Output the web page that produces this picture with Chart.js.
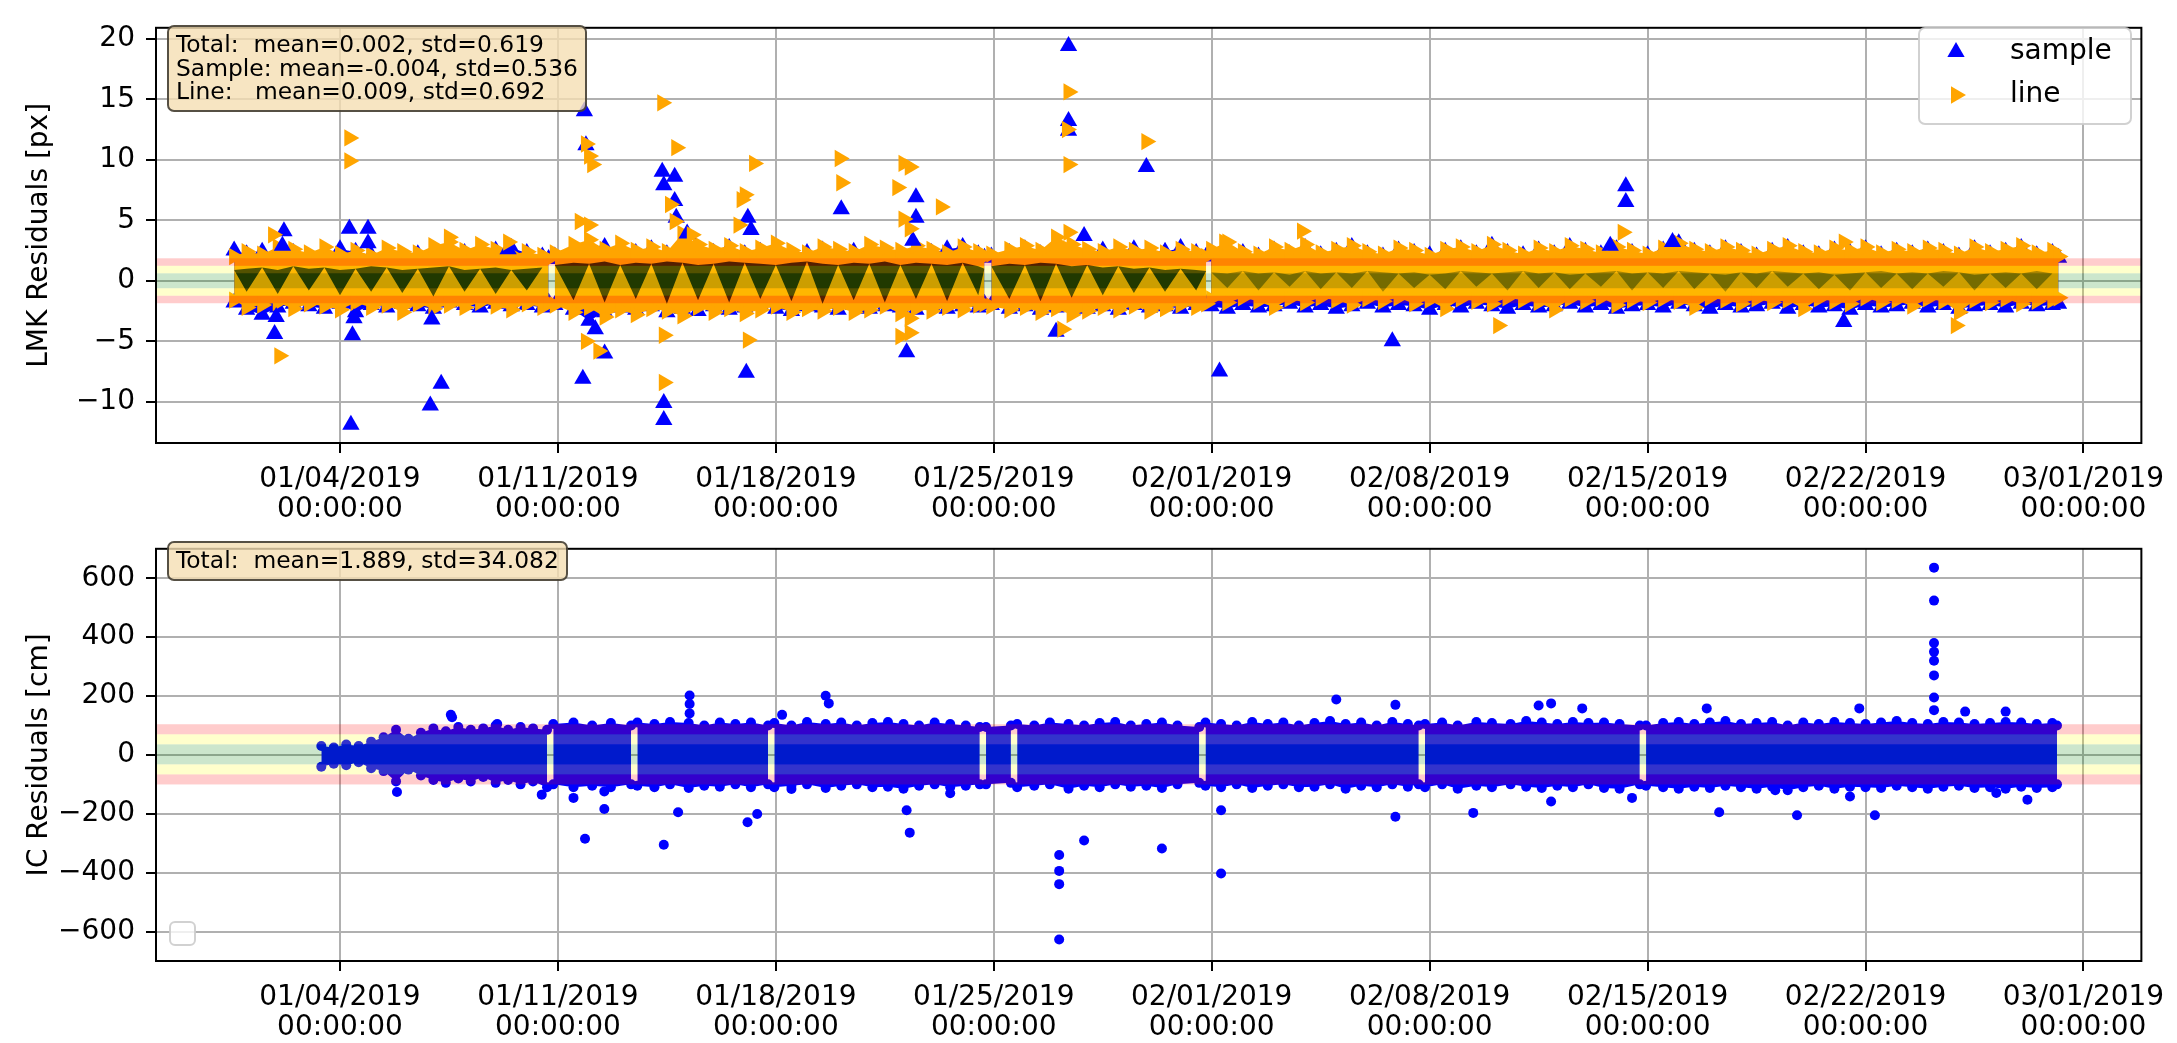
<!DOCTYPE html>
<html>
<head>
<meta charset="utf-8">
<title>LMK / IC residuals</title>
<script src="https://cdn.jsdelivr.net/npm/chart.js@4.4.1/dist/chart.umd.min.js"></script>
<style>
  html, body { margin: 0; padding: 0; background: #fff; }
  #wrap { position: relative; width: 2177px; height: 1043px; overflow: hidden; }
  canvas { position: absolute; left: 0; }
  #lmkCanvas { top: 0; }
  #icCanvas { top: 521px; }
  .statbox {
    position: absolute; left: 167px;
    font-family: 'DejaVu Sans', sans-serif; font-size: 23.4px; line-height: 23.5px;
    white-space: pre; color: #000;
    background: rgba(245, 222, 179, 0.8);
    border: 2px solid rgba(0, 0, 0, 0.65); border-radius: 7px;
    padding: 6px 7px;
  }
</style>
</head>
<body>
<div id="wrap">
  <canvas id="lmkCanvas" width="2177" height="530"></canvas>
  <canvas id="icCanvas" width="2177" height="522"></canvas>
  <div id="lmkBox" class="statbox" style="top:25px"></div>
  <div id="icBox" class="statbox" style="top:541px"></div>
</div>
<script>
// x values are days since 01/01/2019 00:00:00
const xMin = -2.91;
const xMax = 60.86;
const xTickDays = [3, 10, 17, 24, 31, 38, 45, 52, 59];
const xTickLabels = ['01/04/2019', '01/11/2019', '01/18/2019', '01/25/2019', '02/01/2019',
                     '02/08/2019', '02/15/2019', '02/22/2019', '03/01/2019'];
const lmkTicks = [-10, -5, 0, 5, 10, 15, 20];
const icTicks = [-600, -400, -200, 0, 200, 400, 600];

// [mean, std] shown in the text boxes
const lmkTotal = [0.002, 0.619];
const lmkSample = [-0.004, 0.536];
const lmkLine = [0.009, 0.692];
const icTotal = [1.889, 34.082];

// LMK dense band, read as upper / lower edge per half day (null = gap between sessions)
const lmkDays = [
  -0.4, 0, 0.5, 1, 1.5, 2, 2.5, 3, 3.5, 4, 4.5, 5, 5.5, 6, 6.5, 7, 7.5, 8, 8.5, 9, 9.5, 9.7,
  9.8,
  9.9, 10.5, 11, 11.5, 12, 12.5, 13, 13.5, 14, 14.5, 15, 15.5, 16, 16.5, 17, 17.5, 18, 18.5, 19, 19.5,
  20, 20.5, 21, 21.5, 22, 22.5, 23, 23.5, 23.7,
  23.8,
  23.92, 24.5, 25, 25.5, 26, 26.5, 27, 27.5, 28, 28.5, 29, 29.5, 30, 30.5, 30.82,
  30.9,
  30.98, 31.5, 32, 32.5, 33, 33.5, 34, 34.5, 35, 35.5, 36, 36.5, 37, 37.5, 38, 38.5, 39, 39.5, 40, 40.5,
  41, 41.5, 42, 42.5, 43, 43.5, 44, 44.5, 45, 45.5, 46, 46.5, 47, 47.5, 48, 48.5, 49, 49.5, 50, 50.5,
  51, 51.5, 52, 52.5, 53, 53.5, 54, 54.5, 55, 55.5, 56, 56.5, 57, 57.5, 58, 58.2
];
const lineHi = [
  2.0, 2.4, 2.2, 2.8, 2.6, 2.3, 2.8, 2.2, 2.5, 2.1, 2.7, 2.4, 2.3, 2.9, 3.2, 2.5, 3.0, 2.6, 2.2, 2.4, 2.1, 1.8,
  null,
  2.3, 3.0, 3.4, 2.6, 3.1, 2.5, 2.8, 2.4, 3.9, 3.0, 2.6, 2.9, 2.4, 2.7, 3.1, 2.5, 2.3, 2.8, 2.6, 2.4,
  3.0, 2.7, 2.5, 2.9, 2.6, 2.3, 2.8, 2.4, 2.0,
  null,
  2.2, 2.6, 2.9, 2.5, 3.6, 3.0, 2.6, 2.4, 2.8, 2.5, 2.7, 2.3, 2.6, 2.4, 2.0,
  null,
  2.6, 3.2, 2.4, 2.2, 2.8, 2.5, 3.0, 2.3, 2.6, 2.9, 2.4, 2.2, 2.7, 2.5, 2.1, 2.6, 2.8, 2.4, 3.0, 2.5,
  2.2, 2.7, 2.4, 2.9, 2.6, 2.3, 2.8, 2.5, 2.2, 2.7, 3.1, 2.6, 2.4, 2.8, 2.5, 2.2, 2.6, 2.9, 2.4, 2.3,
  2.7, 2.5, 2.8, 2.3, 2.6, 2.4, 2.7, 2.5, 2.2, 2.8, 2.4, 2.6, 2.9, 2.3, 2.5, 2.0
];
const lineLo = [
  -1.6, -2.2, -2.0, -1.8, -2.3, -1.9, -2.1, -2.4, -1.8, -2.2, -2.0, -2.6, -1.9, -2.3, -2.0, -2.2, -1.8, -2.1, -2.4, -1.9, -2.2, -1.8,
  null,
  -2.0, -2.6, -2.2, -3.0, -2.4, -2.8, -2.3, -2.5, -2.9, -2.2, -2.6, -2.3, -2.7, -2.4, -2.1, -2.6, -2.3, -2.5, -2.2, -2.6,
  -2.4, -2.1, -2.7, -2.3, -2.5, -2.2, -2.4, -2.0, -1.9,
  null,
  -2.1, -2.4, -2.2, -2.6, -2.3, -2.8, -2.5, -2.2, -2.4, -2.1, -2.5, -2.3, -2.0, -2.2, -1.9,
  null,
  -1.5, -1.8, -1.4, -1.7, -2.2, -1.5, -1.8, -1.4, -1.6, -2.0, -1.5, -1.7, -1.4, -1.9, -1.6, -2.3, -1.5, -1.7, -1.9, -1.4,
  -1.6, -1.8, -2.4, -1.5, -1.7, -1.4, -2.0, -1.6, -1.8, -1.5, -1.7, -2.2, -1.4, -1.6, -1.9, -1.5, -1.8, -1.6, -2.3, -1.5,
  -1.7, -1.9, -1.4, -1.8, -1.6, -2.1, -1.5, -1.7, -2.6, -1.6, -1.8, -1.5, -1.9, -1.7, -1.6, -1.4
];
const sampleHi = [
  2.5, 2.2, 2.4, 2.0, 2.3, 1.9, 2.2, 2.6, 2.4, 2.1, 2.3, 2.0, 2.2, 2.4, 2.0, 2.3, 2.1, 2.5, 2.7, 2.3, 2.0, 1.8,
  null,
  2.0, 2.6, 2.2, 2.8, 2.4, 2.3, 2.6, 2.2, 2.9, 2.5, 2.3, 2.7, 2.2, 2.4, 2.6, 2.1, 2.3, 2.5, 2.2, 2.4,
  2.6, 2.3, 2.1, 2.5, 2.3, 2.6, 2.8, 2.2, 1.9,
  null,
  2.0, 2.3, 2.6, 2.2, 2.8, 2.4, 2.2, 2.5, 2.3, 2.6, 2.2, 2.4, 2.7, 2.3, 2.0,
  null,
  2.2, 2.6, 2.3, 2.0, 2.5, 2.2, 2.7, 2.1, 2.4, 2.8, 2.2, 2.0, 2.5, 2.3, 2.1, 2.4, 2.6, 2.2, 2.9, 2.3,
  2.1, 2.5, 2.2, 2.8, 2.4, 2.2, 2.6, 2.3, 2.1, 2.5, 3.1, 2.4, 2.2, 2.6, 2.3, 2.0, 2.4, 2.7, 2.2, 2.1,
  2.5, 2.3, 2.6, 2.1, 2.4, 2.2, 2.5, 2.3, 2.0, 2.6, 2.2, 2.4, 2.7, 2.1, 2.3, 1.9
];
const sampleLo = [
  -1.8, -2.4, -2.8, -2.2, -1.9, -2.1, -2.3, -1.9, -2.6, -2.0, -2.2, -1.9, -2.1, -2.3, -1.8, -2.0, -2.2, -1.9, -2.1, -2.0, -2.2, -1.8,
  null,
  -2.0, -2.4, -3.3, -2.6, -2.2, -2.4, -2.1, -2.6, -2.3, -2.5, -2.1, -2.4, -2.2, -2.0, -2.3, -2.5, -2.1, -2.2, -2.4, -2.0,
  -2.3, -2.1, -2.2, -2.4, -2.0, -2.3, -2.1, -2.2, -1.9,
  null,
  -2.0, -2.3, -2.1, -2.4, -2.2, -2.0, -2.3, -2.1, -2.4, -2.0, -2.2, -2.1, -2.3, -2.0, -1.9,
  null,
  -2.1, -2.3, -2.0, -2.2, -2.1, -1.9, -2.2, -2.0, -2.3, -2.1, -1.9, -2.2, -2.0, -2.1, -2.4, -2.0, -2.2, -1.9, -2.1, -2.3,
  -2.0, -2.2, -2.1, -1.9, -2.2, -2.0, -2.3, -2.1, -2.0, -2.2, -1.9, -2.1, -2.3, -2.0, -2.2, -2.1, -1.9, -2.3, -2.0, -2.2,
  -2.1, -2.4, -2.0, -2.2, -2.1, -1.9, -2.2, -2.0, -2.3, -2.1, -2.0, -2.2, -1.9, -2.1, -2.0, -1.9
];
// dark V-shaped cores of the crowded sessions (first three sessions, same days as above)
const coreHi = [
  0.9, 1.0, 1.1, 0.9, 1.2, 1.0, 1.1, 0.9, 1.0, 1.2, 1.1, 0.9, 1.0, 1.1, 1.2, 0.9, 1.0, 1.1, 0.9, 1.0, 1.1, 0.9,
  null,
  1.3, 1.5, 1.4, 1.6, 1.3, 1.5, 1.4, 1.6, 1.5, 1.3, 1.4, 1.6, 1.5, 1.4, 1.3, 1.5, 1.6, 1.4, 1.3, 1.5,
  1.4, 1.6, 1.3, 1.5, 1.4, 1.3, 1.5, 1.2, 1.0,
  null,
  1.2, 1.4, 1.3, 1.5, 1.4, 1.2, 1.3, 1.1, 1.2, 1.0, 1.1, 0.9, 1.0, 0.9, 0.8
];
const coreLo = [
  0.9, -0.9, 1.1, -1.1, 1.2, -0.8, 1.1, -1.2, 1.0, -0.9, 1.1, -1.0, 1.0, -1.3, 1.2, -0.9, 1.0, -1.1, 0.9, -0.8, 1.1, 0.9,
  null,
  1.3, -1.6, 1.4, -1.8, 1.3, -1.5, 1.4, -1.9, 1.5, -1.6, 1.4, -1.8, 1.5, -1.5, 1.3, -1.7, 1.6, -1.9, 1.3, -1.6,
  1.4, -1.8, 1.3, -1.5, 1.4, -1.7, 1.5, -1.2, 1.0,
  null,
  1.2, -1.5, 1.3, -1.7, 1.4, -1.4, 1.3, -1.2, 1.2, -1.0, 1.1, -0.9, 1.0, -0.8, 0.8
];
// thinner, paler cores of the last session (days from 30.98 on)
const core2Hi = [
  0.7, 0.6, 0.8, 0.6, 0.7, 0.5, 0.8, 0.6, 0.7, 0.6, 0.8, 0.7, 0.6, 0.7, 0.5, 0.6, 0.8, 0.7, 0.6, 0.7,
  0.8, 0.6, 0.7, 0.5, 0.6, 0.7, 0.8, 0.6, 0.7, 0.6, 0.8, 0.7, 0.6, 0.5, 0.7, 0.6, 0.8, 0.7, 0.6, 0.7,
  0.5, 0.6, 0.7, 0.8, 0.6, 0.7, 0.6, 0.8, 0.7, 0.5, 0.6, 0.7, 0.6, 0.8, 0.6, 0.5
];
const core2Lo = [
  0.7, -0.6, 0.8, -0.8, 0.7, -0.5, 0.8, -0.7, 0.7, -0.6, 0.8, -0.9, 0.6, -0.6, 0.5, -0.7, 0.8, -0.5, 0.6, -0.8,
  0.8, -0.6, 0.7, -0.7, 0.6, -0.5, 0.8, -0.8, 0.7, -0.6, 0.8, -0.7, 0.6, -0.9, 0.7, -0.6, 0.8, -0.5, 0.6, -0.7,
  0.5, -0.8, 0.7, -0.6, 0.6, -0.7, 0.6, -0.5, 0.7, -0.8, 0.6, -0.6, 0.6, -0.7, 0.6, 0.5
];

// LMK points outside the band
const sampleOutDays = [0.9, 0.95, 1.2, 1.15, 3.3, 3.35, 3.4, 3.45, 3.9, 3.9, 5.9, 6.25, 5.95, 8.4,
  10.8, 10.85, 10.9, 11.5, 11.2, 13.35, 13.4, 13.75, 13.75, 13.4, 13.4, 14.15, 13.8, 16.05, 16.1, 16.2,
  19.1, 21.5, 21.5, 21.4, 21.2, 26.4, 26.4, 26.4, 26.9, 26.0, 28.9, 31.25, 36.8, 44.3, 44.3, 51.3, 45.8, 43.8];
const sampleOutVals = [-4.4, -3.0, 4.1, 2.9, 4.3, -11.9, -4.5, -3.1, 4.3, 3.1, -10.3, -8.5, -3.2, 2.6,
  -8.1, 14.0, 11.2, -6.0, -4.0, 9.0, 7.9, 8.6, 6.6, -10.1, -11.5, 3.9, 5.2, -7.6, 5.2, 4.2,
  5.9, 6.9, 5.2, 3.3, -5.9, 19.4, 13.2, 12.4, 3.7, -4.2, 9.4, -7.5, -5.0, 7.8, 6.5, -3.4, 3.2, 2.9];
const lineOutDays = [0.85, 1.05, 3.3, 3.3, 6.5, 10.9, 11.0, 11.1, 10.7, 10.9, 11.3, 11.0, 13.35, 13.4, 13.4,
  13.8, 13.6, 13.75, 15.9, 16.0, 16.3, 16.1, 15.8, 19.05, 19.1, 21.1, 21.3, 20.9, 21.1, 21.3, 21.3, 21.3,
  21.0, 22.3, 26.4, 26.35, 26.4, 26.4, 26.2, 28.9, 31.4, 33.9, 40.2, 44.2, 51.3, 54.9, 14.3, 8.4];
const lineOutVals = [3.8, -6.2, 11.8, 9.9, 3.6, 11.3, 10.3, 9.6, 4.9, -5.0, -5.8, 4.6, 14.7, -4.5, -8.4,
  11.0, 6.3, 4.9, 6.7, 7.1, 9.7, -4.9, 4.6, 10.1, 8.1, 9.7, 9.4, 7.7, 5.1, 4.3, -4.3, -3.1,
  -4.6, 6.1, 15.6, 12.5, 9.6, 4.0, -4.0, 11.5, 3.2, 4.1, -3.7, 4.0, 3.2, -3.7, 3.8, 3.2];

// IC dense band, upper / lower edge per session (null = gap)
const icDays = [
  2.4, 2.8, 3.2, 3.6, 4.0, 4.4, 4.8, 5.2, 5.6, 6.0, 6.4, 6.8, 7.2, 7.6, 8.0, 8.4, 8.8, 9.2, 9.65,
  9.75,
  9.85, 10.5, 11.1, 11.7, 12.35,
  12.45,
  12.55, 13.1, 13.6, 14.2, 14.7, 15.2, 15.7, 16.2, 16.75,
  16.85,
  16.95, 17.5, 18.0, 18.6, 19.1, 19.6, 20.1, 20.6, 21.1, 21.6, 22.1, 22.6, 23.1, 23.55,
  23.65,
  23.75, 24.55,
  24.65,
  24.75, 25.3, 25.8, 26.4, 26.9, 27.4, 27.9, 28.4, 28.9, 29.4, 29.9, 30.6,
  30.7,
  30.8, 31.3, 31.8, 32.3, 32.8, 33.3, 33.8, 34.3, 34.8, 35.3, 35.8, 36.3, 36.8, 37.3, 37.65,
  37.75,
  37.85, 38.4, 38.9, 39.5, 40.0, 40.6, 41.1, 41.6, 42.1, 42.6, 43.1, 43.6, 44.1, 44.75,
  44.85,
  44.95, 45.5, 46.0, 46.5, 47.0, 47.5, 48.0, 48.5, 49.0, 49.5, 50.0, 50.5, 51.0, 51.5, 52.0, 52.5,
  53.0, 53.5, 54.0, 54.5, 55.0, 55.5, 56.0, 56.5, 57.0, 57.5, 58.0, 58.15
];
const icHi = [
  30, 25, 35, 30, 45, 60, 85, 55, 75, 90, 80, 95, 85, 90, 100, 85, 95, 90, 85,
  null,
  105, 110, 100, 108, 100,
  null,
  110, 105, 112, 108, 100, 110, 105, 110, 100,
  null,
  108, 100, 112, 105, 110, 100, 108, 112, 105, 100, 110, 105, 100, 95,
  null,
  95, 100,
  null,
  105, 100, 110, 105, 100, 108, 112, 100, 105, 110, 100, 95,
  null,
  110, 105, 100, 112, 105, 110, 100, 108, 115, 105, 110, 100, 112, 105, 100,
  null,
  105, 110, 100, 112, 108, 105, 115, 110, 105, 112, 108, 110, 105, 100,
  null,
  100, 108, 112, 105, 110, 115, 105, 108, 112, 100, 110, 105, 112, 108, 105, 110,
  115, 108, 105, 112, 110, 105, 108, 112, 110, 105, 108, 100
];
const icLo = [
  -40, -30, -35, -25, -45, -55, -90, -50, -70, -85, -95, -80, -90, -75, -95, -85, -100, -90, -110,
  null,
  -100, -110, -105, -110, -100,
  null,
  -105, -110, -100, -112, -105, -108, -100, -110, -100,
  null,
  -110, -105, -100, -112, -105, -100, -110, -108, -115, -105, -100, -110, -105, -100,
  null,
  -100, -95,
  null,
  -110, -105, -100, -115, -105, -110, -100, -108, -105, -112, -100, -95,
  null,
  -105, -110, -100, -112, -105, -100, -110, -108, -100, -115, -105, -110, -100, -108, -100,
  null,
  -110, -100, -115, -105, -110, -100, -108, -112, -105, -110, -100, -112, -115, -100,
  null,
  -105, -110, -115, -108, -112, -105, -110, -115, -108, -120, -110, -105, -115, -108, -110, -112,
  -105, -110, -115, -108, -105, -112, -110, -115, -108, -112, -110, -100
];
// IC points outside the band
const icOutDays = [54.2, 54.2, 54.2, 54.2, 54.2, 54.2, 54.2, 54.2, 10.87, 11.49, 11.49, 10.5, 13.4, 13.86,
  16.09, 16.4, 14.23, 14.23, 14.23, 6.56, 6.6, 4.83, 9.48, 8.05, 17.2, 17.5, 18.6, 18.7, 21.2, 21.3, 22.6,
  26.1, 26.1, 26.1, 26.1, 26.9, 29.4, 31.3, 31.3, 35.0, 36.9, 36.9, 39.4, 41.9, 41.5, 41.9, 44.5, 46.9,
  47.3, 49.8, 52.3, 51.5, 49.1, 56.2, 57.2, 56.5, 51.8, 55.2, 42.9];
const icOutVals = [636, 524, 380, 350, 320, 270, 195, 152, -285, -184, -124, -146, -305, -195,
  -229, -201, 202, 173, 141, 136, 128, -126, -135, 105, 136, -116, 201, 175, -188, -264, -130,
  -340, -394, -439, -627, -291, -318, -188, -403, 188, 170, -210, -197, 175, 168, -158, -146, 158,
  -195, -205, -205, -141, -120, -129, -152, 147, 158, 147, 158];

const blue = '#0000ff';
const orange = '#ffa500';
const gridColor = '#b0b0b0';

Chart.defaults.font.family = "'DejaVu Sans', sans-serif";
Chart.defaults.color = '#000';

function pts(xs, ys) {
  return ys.map((v, i) => ({x: xs[i], y: v}));
}

function fmtY(v) {
  return v < 0 ? '\u2212' + Math.abs(v) : String(v);
}

function statLine(name, s) {
  return name + 'mean=' + s[0].toFixed(3) + ', std=' + s[1].toFixed(3);
}

document.getElementById('lmkBox').textContent =
  statLine('Total:  ', lmkTotal) + '\n' + statLine('Sample: ', lmkSample) + '\n' + statLine('Line:   ', lmkLine);
document.getElementById('icBox').textContent = statLine('Total:  ', icTotal);

// 1/2/3 sigma bands drawn over the points, like the axhspans in the original
const sigmaBands = {
  id: 'sigmaBands',
  afterDatasetsDraw(chart) {
    const {ctx, chartArea: a, scales: {y}} = chart;
    const [m, s] = chart.options.plugins.sigmaBands.stats;
    const spans = [
      [m - s, m + s, 'rgba(0,128,0,0.2)'],
      [m + s, m + 2 * s, 'rgba(255,255,0,0.2)'],
      [m - 2 * s, m - s, 'rgba(255,255,0,0.2)'],
      [m + 2 * s, m + 3 * s, 'rgba(255,0,0,0.2)'],
      [m - 3 * s, m - 2 * s, 'rgba(255,0,0,0.2)']
    ];
    ctx.save();
    spans.forEach(([lo, hi, c]) => {
      const top = y.getPixelForValue(hi);
      const bot = y.getPixelForValue(lo);
      ctx.fillStyle = c;
      ctx.fillRect(a.left, top, a.right - a.left, bot - top);
    });
    ctx.restore();
  }
};

// the top and right spines
const frame = {
  id: 'frame',
  afterDraw(chart) {
    const {ctx, chartArea: a} = chart;
    ctx.save();
    ctx.strokeStyle = '#000';
    ctx.lineWidth = 2;
    ctx.strokeRect(a.left, a.top, a.right - a.left, a.bottom - a.top);
    ctx.restore();
  }
};

const lmkLegend = {
  id: 'lmkLegend',
  afterDraw(chart) {
    const ctx = chart.ctx;
    ctx.save();
    ctx.fillStyle = 'rgba(255,255,255,0.8)';
    ctx.strokeStyle = 'rgba(204,204,204,0.9)';
    ctx.lineWidth = 2;
    ctx.beginPath();
    ctx.roundRect(1919, 28, 212, 96, 6);
    ctx.fill();
    ctx.stroke();
    const items = [chart.data.datasets[1], chart.data.datasets[0]];
    items.forEach((ds, i) => {
      const y = 52 + i * 43;
      ctx.fillStyle = ds.backgroundColor;
      Chart.helpers.drawPoint(ctx, {pointStyle: 'triangle', rotation: ds.pointRotation || 0, radius: 10, borderWidth: 0}, 1956, y);
      ctx.fillStyle = '#000';
      ctx.font = "28px 'DejaVu Sans', sans-serif";
      ctx.textBaseline = 'middle';
      ctx.fillText(ds.label, 2010, y);
    });
    ctx.restore();
  }
};

const icLegend = {
  id: 'icLegend',
  afterDraw(chart) {
    const ctx = chart.ctx;
    ctx.save();
    ctx.fillStyle = 'rgba(255,255,255,0.8)';
    ctx.strokeStyle = 'rgba(204,204,204,0.9)';
    ctx.lineWidth = 2;
    ctx.beginPath();
    ctx.roundRect(170, 401, 25, 23, 5);
    ctx.fill();
    ctx.stroke();
    ctx.restore();
  }
};

function makeScales(yMin, yMax, yTicks, yTitle, xHeight) {
  return {
    x: {
      type: 'linear', min: xMin, max: xMax,
      afterBuildTicks: s => { s.ticks = xTickDays.map(v => ({value: v})); },
      afterFit: s => { s.height = xHeight; },
      grid: {color: gridColor, lineWidth: 2, tickLength: 10, tickColor: '#000', tickWidth: 2},
      border: {color: '#000', width: 2},
      ticks: {
        autoSkip: false, maxRotation: 0, minRotation: 0, padding: 12, color: '#000',
        font: {size: 28, lineHeight: 1.07},
        callback: v => {
          const i = xTickDays.indexOf(v);
          return i < 0 ? '' : [xTickLabels[i], '00:00:00'];
        }
      }
    },
    y: {
      type: 'linear', min: yMin, max: yMax,
      afterBuildTicks: s => { s.ticks = yTicks.map(v => ({value: v})); },
      afterFit: s => { s.width = 156; },
      grid: {color: gridColor, lineWidth: 2, tickLength: 10, tickColor: '#000', tickWidth: 2},
      border: {color: '#000', width: 2},
      ticks: {padding: 11, color: '#000', font: {size: 28}, callback: v => fmtY(v)},
      title: {display: true, text: yTitle, color: '#000', font: {size: 28, lineHeight: 1.2}, padding: {top: 23, bottom: 0}}
    }
  };
}

function bandEdge(label, data, color, radius, style, rot, fillTarget) {
  return {
    label, data,
    backgroundColor: color, borderColor: color, borderWidth: 0,
    pointRadius: radius, pointStyle: style, pointRotation: rot, pointBorderWidth: 0,
    fill: fillTarget === undefined ? false : {target: fillTarget},
    spanGaps: false
  };
}

const lastDays = lmkDays.slice(69);

new Chart(document.getElementById('lmkCanvas'), {
  type: 'line',
  data: {
    datasets: [
      {label: 'line', data: pts(lineOutDays, lineOutVals), showLine: false, backgroundColor: orange,
       pointStyle: 'triangle', pointRotation: 90, pointRadius: 10, pointBorderWidth: 0},
      {label: 'sample', data: pts(sampleOutDays, sampleOutVals), showLine: false, backgroundColor: blue,
       pointStyle: 'triangle', pointRotation: 0, pointRadius: 10, pointBorderWidth: 0},
      bandEdge('core hi', pts(lmkDays, coreHi), 'rgba(5,16,0,0.85)', 0, 'circle', 0),
      bandEdge('core lo', pts(lmkDays, coreLo), 'rgba(5,16,0,0.85)', 0, 'circle', 0, 2),
      bandEdge('core2 hi', pts(lastDays, core2Hi), 'rgba(40,40,0,0.5)', 0, 'circle', 0),
      bandEdge('core2 lo', pts(lastDays, core2Lo), 'rgba(40,40,0,0.5)', 0, 'circle', 0, 4),
      bandEdge('line hi', pts(lmkDays, lineHi), orange, 10, 'triangle', 90),
      bandEdge('line lo', pts(lmkDays, lineLo), orange, 10, 'triangle', 90, 6),
      bandEdge('sample hi', pts(lmkDays, sampleHi), blue, 10, 'triangle', 0),
      bandEdge('sample lo', pts(lmkDays, sampleLo), blue, 10, 'triangle', 0, 8)
    ]
  },
  options: {
    responsive: false, animation: false, devicePixelRatio: 1, events: [],
    layout: {padding: {top: 11, right: 29, bottom: 0, left: 0}},
    scales: makeScales(-13.4, 20.9, lmkTicks, 'LMK Residuals [px]', 87),
    plugins: {legend: {display: false}, tooltip: {enabled: false}, sigmaBands: {stats: lmkTotal}}
  },
  plugins: [sigmaBands, frame, lmkLegend]
});

new Chart(document.getElementById('icCanvas'), {
  type: 'line',
  data: {
    datasets: [
      {label: 'ic', data: pts(icOutDays, icOutVals), showLine: false, backgroundColor: blue,
       pointStyle: 'circle', pointRadius: 5, pointBorderWidth: 0},
      bandEdge('ic hi', pts(icDays, icHi), blue, 5, 'circle', 0),
      bandEdge('ic lo', pts(icDays, icLo), blue, 5, 'circle', 0, 1)
    ]
  },
  options: {
    responsive: false, animation: false, devicePixelRatio: 1, events: [],
    layout: {padding: {top: 8, right: 29, bottom: 0, left: 0}},
    scales: makeScales(-700, 700, icTicks, 'IC Residuals [cm]', 82),
    plugins: {legend: {display: false}, tooltip: {enabled: false}, sigmaBands: {stats: icTotal}}
  },
  plugins: [sigmaBands, frame, icLegend]
});
</script>
</body>
</html>
